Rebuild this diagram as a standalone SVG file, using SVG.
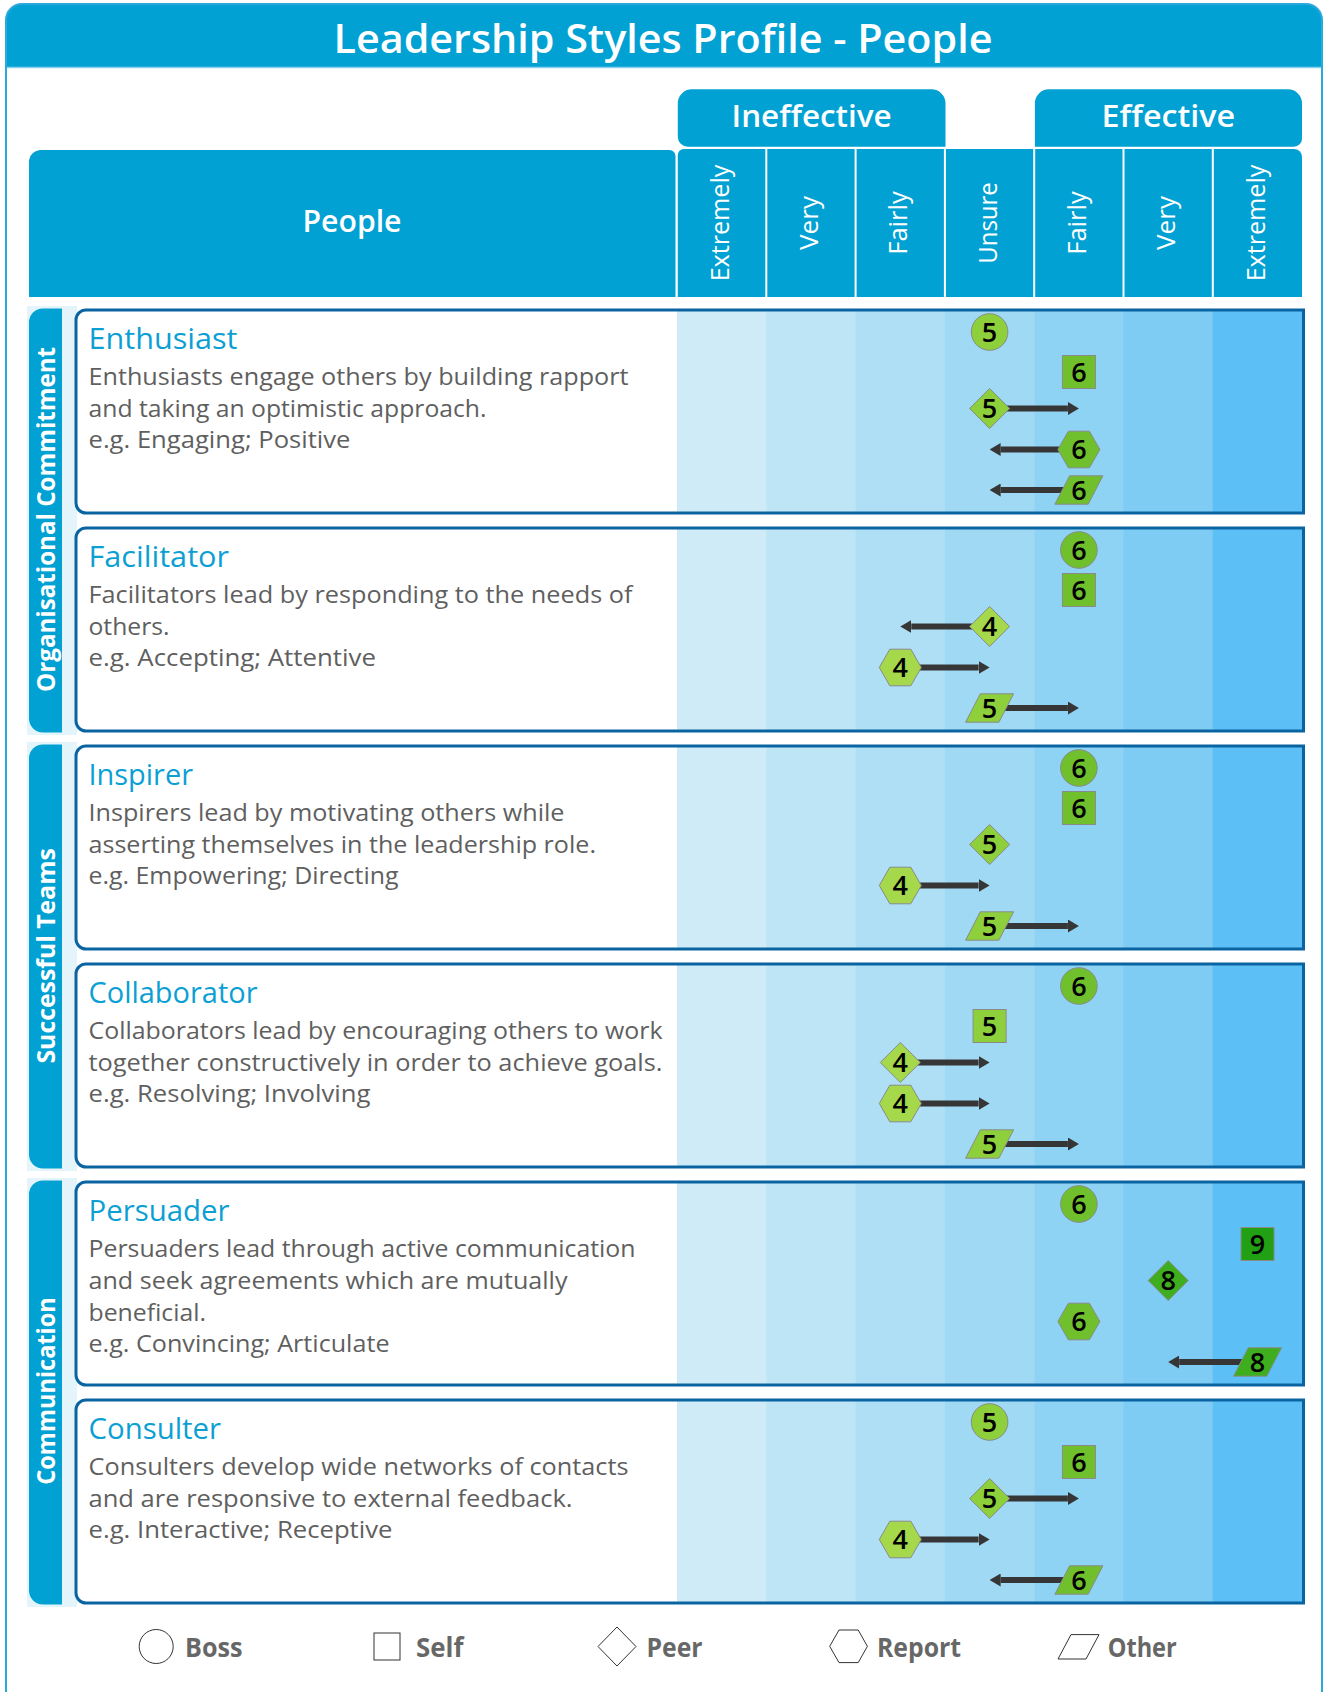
<svg xmlns="http://www.w3.org/2000/svg" xmlns:xlink="http://www.w3.org/1999/xlink" width="1324" height="1692" viewBox="0 0 1324 1692">
<style>
text{font-family:"Open Sans","Liberation Sans",sans-serif}
.hdr{fill:#fff;font-weight:600;text-anchor:middle}
.col{fill:#fff;font-size:25px;text-anchor:middle}
.grp{fill:#fff;font-size:25px;font-weight:700;text-anchor:middle}
.name{fill:#0b9fd4;font-size:30px}
.body{fill:#5f5f5f;font-size:24px}
.num{fill:#000;font-size:27px;font-weight:600;text-anchor:middle}
.leg{fill:#676767;font-size:26px;font-weight:700}
.pb{fill:none;stroke:#0b64a2;stroke-width:3}
.mk{stroke:#8a8a8a;stroke-width:1}
.v4{fill:#a6d84b}.v5{fill:#8ed03b}.v6{fill:#70c02e}.v8{fill:#3ead1e}.v9{fill:#22a014}
.arr{stroke:#363636;stroke-width:6;fill:none;marker-end:url(#ah)}
.lg{fill:#fff;stroke:#333;stroke-width:1}
</style>
<defs>
<marker id="ah" markerUnits="userSpaceOnUse" viewBox="0 0 11 13" markerWidth="11" markerHeight="13" refX="0" refY="6.5" orient="auto"><path d="M0,0L11,6.5L0,13Z" fill="#363636"/></marker>
<g id="cols">
<rect x="677" y="0" width="89.8" height="203" fill="#cfebf7"/>
<rect x="766.3" y="0" width="89.8" height="203" fill="#bee5f6"/>
<rect x="855.6" y="0" width="89.8" height="203" fill="#aedff5"/>
<rect x="944.9" y="0" width="89.8" height="203" fill="#a0d9f4"/>
<rect x="1034.2" y="0" width="89.8" height="203" fill="#8fd3f4"/>
<rect x="1123.5" y="0" width="89.8" height="203" fill="#7ecbf3"/>
<rect x="1212.8" y="0" width="90.7" height="203" fill="#5cbff5"/>
</g>
<path id="panel" d="M86,0H1303.5V203H86A10,10 0 0 1 76,193V10A10,10 0 0 1 86,0Z"/>
<circle id="mk-boss" r="18.3"/>
<rect id="mk-self" x="-16.5" y="-16.5" width="33" height="33"/>
<polygon id="mk-peer" points="0,-20 20,0 0,20 -20,0"/>
<polygon id="mk-report" points="-21,0 -10.5,-18.3 10.5,-18.3 21,0 10.5,18.3 -10.5,18.3"/>
<polygon id="mk-other" points="-9.3,-14.2 24,-14.2 9.3,14.2 -24,14.2"/>
</defs>

<rect width="1324" height="1692" fill="#fff"/>

<g id="frame">
<path d="M6,67V20A16,16 0 0 1 22,4H1306A16,16 0 0 1 1322,20V67Z" fill="#02a1d3"/>
<line x1="6" y1="67.5" x2="1322" y2="67.5" stroke="#8ad3ef" stroke-width="1.5"/>
<rect x="6" y="4" width="1316" height="1730" rx="16" fill="none" stroke="#2ba9dc" stroke-width="2"/>
<text x="663" y="52.5" class="hdr" font-size="40" textLength="659" lengthAdjust="spacingAndGlyphs">Leadership Styles Profile - People</text>
</g>

<g id="header">
<path d="M29,297V162A12,12 0 0 1 41,150H669.5A6,6 0 0 1 675.5,156V297Z" fill="#02a1d3"/>
<text x="352" y="232" class="hdr" font-size="30" textLength="99" lengthAdjust="spacingAndGlyphs">People</text>
<path d="M677.8,146.7V103.3A14,14 0 0 1 691.8,89.3H931.5A14,14 0 0 1 945.5,103.3V146.7H687.8A10,10 0 0 1 677.8,136.7Z" fill="#02a1d3"/>
<text x="811.6" y="127.3" class="hdr" font-size="31" textLength="160" lengthAdjust="spacingAndGlyphs">Ineffective</text>
<path d="M1034.9,146.7V103.3A14,14 0 0 1 1048.9,89.3H1288A14,14 0 0 1 1302,103.3V138.7A8,8 0 0 1 1294,146.7Z" fill="#02a1d3"/>
<text x="1168.4" y="127.3" class="hdr" font-size="31" textLength="133.6" lengthAdjust="spacingAndGlyphs">Effective</text>
<path d="M677.8,297V155A6,6 0 0 1 683.8,149H1294A8,8 0 0 1 1302,157V297Z" fill="#02a1d3"/>
<g stroke="#fff" stroke-width="2">
<line x1="766.3" y1="149" x2="766.3" y2="297"/>
<line x1="855.6" y1="149" x2="855.6" y2="297"/>
<line x1="944.9" y1="149" x2="944.9" y2="297"/>
<line x1="1034.2" y1="149" x2="1034.2" y2="297"/>
<line x1="1123.5" y1="149" x2="1123.5" y2="297"/>
<line x1="1212.8" y1="149" x2="1212.8" y2="297"/>
</g>
<text class="col" transform="translate(728.6,223) rotate(-90)" textLength="116.7" lengthAdjust="spacingAndGlyphs">Extremely</text>
<text class="col" transform="translate(818,223) rotate(-90)" textLength="54" lengthAdjust="spacingAndGlyphs">Very</text>
<text class="col" transform="translate(907.3,223) rotate(-90)" textLength="63.7" lengthAdjust="spacingAndGlyphs">Fairly</text>
<text class="col" transform="translate(996.6,223) rotate(-90)" textLength="81.7" lengthAdjust="spacingAndGlyphs">Unsure</text>
<text class="col" transform="translate(1085.9,223) rotate(-90)" textLength="63.7" lengthAdjust="spacingAndGlyphs">Fairly</text>
<text class="col" transform="translate(1175.2,223) rotate(-90)" textLength="54" lengthAdjust="spacingAndGlyphs">Very</text>
<text class="col" transform="translate(1264.5,223) rotate(-90)" textLength="116.7" lengthAdjust="spacingAndGlyphs">Extremely</text>
</g>

<g id="group-organisational-commitment">
<rect x="27" y="306" width="50" height="429" fill="#e4f4fb"/>
<path d="M43,308.5H62V732.5H43A14,14 0 0 1 29,718.5V322.5A14,14 0 0 1 43,308.5Z" fill="#02a1d3"/>
<text class="grp" transform="translate(55,519.4) rotate(-90)" textLength="345" lengthAdjust="spacingAndGlyphs">Organisational Commitment</text>
</g>
<g id="group-successful-teams">
<rect x="27" y="742" width="50" height="429" fill="#e4f4fb"/>
<path d="M43,744.5H62V1168.5H43A14,14 0 0 1 29,1154.5V758.5A14,14 0 0 1 43,744.5Z" fill="#02a1d3"/>
<text class="grp" transform="translate(55,955.8) rotate(-90)" textLength="215.5" lengthAdjust="spacingAndGlyphs">Successful Teams</text>
</g>
<g id="group-communication">
<rect x="27" y="1178" width="50" height="429" fill="#e4f4fb"/>
<path d="M43,1180.5H62V1604.5H43A14,14 0 0 1 29,1590.5V1194.5A14,14 0 0 1 43,1180.5Z" fill="#02a1d3"/>
<text class="grp" transform="translate(55,1391) rotate(-90)" textLength="187.5" lengthAdjust="spacingAndGlyphs">Communication</text>
</g>

<g id="enthusiast">
<use href="#panel" y="310" fill="#fff"/><use href="#cols" y="310"/><use href="#panel" y="310" class="pb"/>
<text x="88.5" y="349" class="name" textLength="149" lengthAdjust="spacingAndGlyphs">Enthusiast</text>
<text x="88.5" y="385" class="body" textLength="540" lengthAdjust="spacingAndGlyphs">Enthusiasts engage others by building rapport</text>
<text x="88.5" y="416.6" class="body" textLength="398" lengthAdjust="spacingAndGlyphs">and taking an optimistic approach.</text>
<text x="88.5" y="448.2" class="body" textLength="262" lengthAdjust="spacingAndGlyphs">e.g. Engaging; Positive</text>
</g>
<g id="facilitator">
<use href="#panel" y="528" fill="#fff"/><use href="#cols" y="528"/><use href="#panel" y="528" class="pb"/>
<text x="88.5" y="567" class="name" textLength="140.5" lengthAdjust="spacingAndGlyphs">Facilitator</text>
<text x="88.5" y="603" class="body" textLength="544" lengthAdjust="spacingAndGlyphs">Facilitators lead by responding to the needs of</text>
<text x="88.5" y="634.6" class="body" textLength="81" lengthAdjust="spacingAndGlyphs">others.</text>
<text x="88.5" y="666.2" class="body" textLength="287.5" lengthAdjust="spacingAndGlyphs">e.g. Accepting; Attentive</text>
</g>
<g id="inspirer">
<use href="#panel" y="746" fill="#fff"/><use href="#cols" y="746"/><use href="#panel" y="746" class="pb"/>
<text x="88.5" y="785" class="name" textLength="104.5" lengthAdjust="spacingAndGlyphs">Inspirer</text>
<text x="88.5" y="821" class="body" textLength="476" lengthAdjust="spacingAndGlyphs">Inspirers lead by motivating others while</text>
<text x="88.5" y="852.6" class="body" textLength="507.5" lengthAdjust="spacingAndGlyphs">asserting themselves in the leadership role.</text>
<text x="88.5" y="884.2" class="body" textLength="310" lengthAdjust="spacingAndGlyphs">e.g. Empowering; Directing</text>
</g>
<g id="collaborator">
<use href="#panel" y="964" fill="#fff"/><use href="#cols" y="964"/><use href="#panel" y="964" class="pb"/>
<text x="88.5" y="1003" class="name" textLength="169" lengthAdjust="spacingAndGlyphs">Collaborator</text>
<text x="88.5" y="1039" class="body" textLength="574" lengthAdjust="spacingAndGlyphs">Collaborators lead by encouraging others to work</text>
<text x="88.5" y="1070.6" class="body" textLength="574" lengthAdjust="spacingAndGlyphs">together constructively in order to achieve goals.</text>
<text x="88.5" y="1102.2" class="body" textLength="282" lengthAdjust="spacingAndGlyphs">e.g. Resolving; Involving</text>
</g>
<g id="persuader">
<use href="#panel" y="1182" fill="#fff"/><use href="#cols" y="1182"/><use href="#panel" y="1182" class="pb"/>
<text x="88.5" y="1221" class="name" textLength="141" lengthAdjust="spacingAndGlyphs">Persuader</text>
<text x="88.5" y="1257" class="body" textLength="547" lengthAdjust="spacingAndGlyphs">Persuaders lead through active communication</text>
<text x="88.5" y="1288.6" class="body" textLength="479" lengthAdjust="spacingAndGlyphs">and seek agreements which are mutually</text>
<text x="88.5" y="1321" class="body" textLength="117.5" lengthAdjust="spacingAndGlyphs">beneficial.</text>
<text x="88.5" y="1351.8" class="body" textLength="301" lengthAdjust="spacingAndGlyphs">e.g. Convincing; Articulate</text>
</g>
<g id="consulter">
<use href="#panel" y="1400" fill="#fff"/><use href="#cols" y="1400"/><use href="#panel" y="1400" class="pb"/>
<text x="88.5" y="1439" class="name" textLength="132.5" lengthAdjust="spacingAndGlyphs">Consulter</text>
<text x="88.5" y="1475" class="body" textLength="540" lengthAdjust="spacingAndGlyphs">Consulters develop wide networks of contacts</text>
<text x="88.5" y="1506.6" class="body" textLength="484" lengthAdjust="spacingAndGlyphs">and are responsive to external feedback.</text>
<text x="88.5" y="1538.2" class="body" textLength="304" lengthAdjust="spacingAndGlyphs">e.g. Interactive; Receptive</text>
</g>

<g id="connectors">
<line class="arr" x1="989.6" y1="408.5" x2="1067.9" y2="408.5"/>
<line class="arr" x1="1078.9" y1="449.5" x2="1000.6" y2="449.5"/>
<line class="arr" x1="1078.9" y1="490" x2="1000.6" y2="490"/>
<line class="arr" x1="989.6" y1="626.5" x2="911.3" y2="626.5"/>
<line class="arr" x1="900.3" y1="667.5" x2="978.6" y2="667.5"/>
<line class="arr" x1="989.6" y1="708" x2="1067.9" y2="708"/>
<line class="arr" x1="900.3" y1="885.5" x2="978.6" y2="885.5"/>
<line class="arr" x1="989.6" y1="926" x2="1067.9" y2="926"/>
<line class="arr" x1="900.3" y1="1062.5" x2="978.6" y2="1062.5"/>
<line class="arr" x1="900.3" y1="1103.5" x2="978.6" y2="1103.5"/>
<line class="arr" x1="989.6" y1="1144" x2="1067.9" y2="1144"/>
<line class="arr" x1="1257.5" y1="1362" x2="1179.2" y2="1362"/>
<line class="arr" x1="989.6" y1="1498.5" x2="1067.9" y2="1498.5"/>
<line class="arr" x1="900.3" y1="1539.5" x2="978.6" y2="1539.5"/>
<line class="arr" x1="1078.9" y1="1580" x2="1000.6" y2="1580"/>
</g>

<g id="markers">
<g id="enthusiast-boss"><use href="#mk-boss" x="989.6" y="332" class="mk v5"/><text x="989.6" y="341.5" class="num">5</text></g>
<g id="enthusiast-self"><use href="#mk-self" x="1078.9" y="372" class="mk v6"/><text x="1078.9" y="381.5" class="num">6</text></g>
<g id="enthusiast-peer"><use href="#mk-peer" x="989.6" y="408.5" class="mk v5"/><text x="989.6" y="418" class="num">5</text></g>
<g id="enthusiast-report"><use href="#mk-report" x="1078.9" y="449.5" class="mk v6"/><text x="1078.9" y="459" class="num">6</text></g>
<g id="enthusiast-other"><use href="#mk-other" x="1078.9" y="490" class="mk v6"/><text x="1078.9" y="499.5" class="num">6</text></g>

<g id="facilitator-boss"><use href="#mk-boss" x="1078.9" y="550" class="mk v6"/><text x="1078.9" y="559.5" class="num">6</text></g>
<g id="facilitator-self"><use href="#mk-self" x="1078.9" y="590" class="mk v6"/><text x="1078.9" y="599.5" class="num">6</text></g>
<g id="facilitator-peer"><use href="#mk-peer" x="989.6" y="626.5" class="mk v4"/><text x="989.6" y="636" class="num">4</text></g>
<g id="facilitator-report"><use href="#mk-report" x="900.3" y="667.5" class="mk v4"/><text x="900.3" y="677" class="num">4</text></g>
<g id="facilitator-other"><use href="#mk-other" x="989.6" y="708" class="mk v5"/><text x="989.6" y="717.5" class="num">5</text></g>

<g id="inspirer-boss"><use href="#mk-boss" x="1078.9" y="768" class="mk v6"/><text x="1078.9" y="777.5" class="num">6</text></g>
<g id="inspirer-self"><use href="#mk-self" x="1078.9" y="808" class="mk v6"/><text x="1078.9" y="817.5" class="num">6</text></g>
<g id="inspirer-peer"><use href="#mk-peer" x="989.6" y="844.5" class="mk v5"/><text x="989.6" y="854" class="num">5</text></g>
<g id="inspirer-report"><use href="#mk-report" x="900.3" y="885.5" class="mk v4"/><text x="900.3" y="895" class="num">4</text></g>
<g id="inspirer-other"><use href="#mk-other" x="989.6" y="926" class="mk v5"/><text x="989.6" y="935.5" class="num">5</text></g>

<g id="collaborator-boss"><use href="#mk-boss" x="1078.9" y="986" class="mk v6"/><text x="1078.9" y="995.5" class="num">6</text></g>
<g id="collaborator-self"><use href="#mk-self" x="989.6" y="1026" class="mk v5"/><text x="989.6" y="1035.5" class="num">5</text></g>
<g id="collaborator-peer"><use href="#mk-peer" x="900.3" y="1062.5" class="mk v4"/><text x="900.3" y="1072" class="num">4</text></g>
<g id="collaborator-report"><use href="#mk-report" x="900.3" y="1103.5" class="mk v4"/><text x="900.3" y="1113" class="num">4</text></g>
<g id="collaborator-other"><use href="#mk-other" x="989.6" y="1144" class="mk v5"/><text x="989.6" y="1153.5" class="num">5</text></g>

<g id="persuader-boss"><use href="#mk-boss" x="1078.9" y="1204" class="mk v6"/><text x="1078.9" y="1213.5" class="num">6</text></g>
<g id="persuader-self"><use href="#mk-self" x="1257.5" y="1244" class="mk v9"/><text x="1257.5" y="1253.5" class="num">9</text></g>
<g id="persuader-peer"><use href="#mk-peer" x="1168.2" y="1280.5" class="mk v8"/><text x="1168.2" y="1290" class="num">8</text></g>
<g id="persuader-report"><use href="#mk-report" x="1078.9" y="1321.5" class="mk v6"/><text x="1078.9" y="1331" class="num">6</text></g>
<g id="persuader-other"><use href="#mk-other" x="1257.5" y="1362" class="mk v8"/><text x="1257.5" y="1371.5" class="num">8</text></g>

<g id="consulter-boss"><use href="#mk-boss" x="989.6" y="1422" class="mk v5"/><text x="989.6" y="1431.5" class="num">5</text></g>
<g id="consulter-self"><use href="#mk-self" x="1078.9" y="1462" class="mk v6"/><text x="1078.9" y="1471.5" class="num">6</text></g>
<g id="consulter-peer"><use href="#mk-peer" x="989.6" y="1498.5" class="mk v5"/><text x="989.6" y="1508" class="num">5</text></g>
<g id="consulter-report"><use href="#mk-report" x="900.3" y="1539.5" class="mk v4"/><text x="900.3" y="1549" class="num">4</text></g>
<g id="consulter-other"><use href="#mk-other" x="1078.9" y="1580" class="mk v6"/><text x="1078.9" y="1589.5" class="num">6</text></g>
</g>

<g id="legend">
<g id="legend-boss"><circle cx="156.2" cy="1646.5" r="17" class="lg"/><text x="185" y="1657" class="leg" textLength="57.5" lengthAdjust="spacingAndGlyphs">Boss</text></g>
<g id="legend-self"><rect x="374" y="1633" width="26" height="27" class="lg"/><text x="416" y="1657" class="leg" textLength="47.4" lengthAdjust="spacingAndGlyphs">Self</text></g>
<g id="legend-peer"><polygon points="617,1627 636,1646.5 617,1666 598,1646.5" class="lg"/><text x="646.5" y="1657" class="leg" textLength="56" lengthAdjust="spacingAndGlyphs">Peer</text></g>
<g id="legend-report"><polygon points="829.7,1646.3 839,1630 858.2,1630 867.4,1646.3 858.2,1662.6 839,1662.6" class="lg"/><text x="877" y="1657" class="leg" textLength="84" lengthAdjust="spacingAndGlyphs">Report</text></g>
<g id="legend-other"><polygon points="1071,1634.6 1099,1634.6 1086,1659 1058,1659" class="lg"/><text x="1107.7" y="1657" class="leg" textLength="69" lengthAdjust="spacingAndGlyphs">Other</text></g>
</g>
</svg>
